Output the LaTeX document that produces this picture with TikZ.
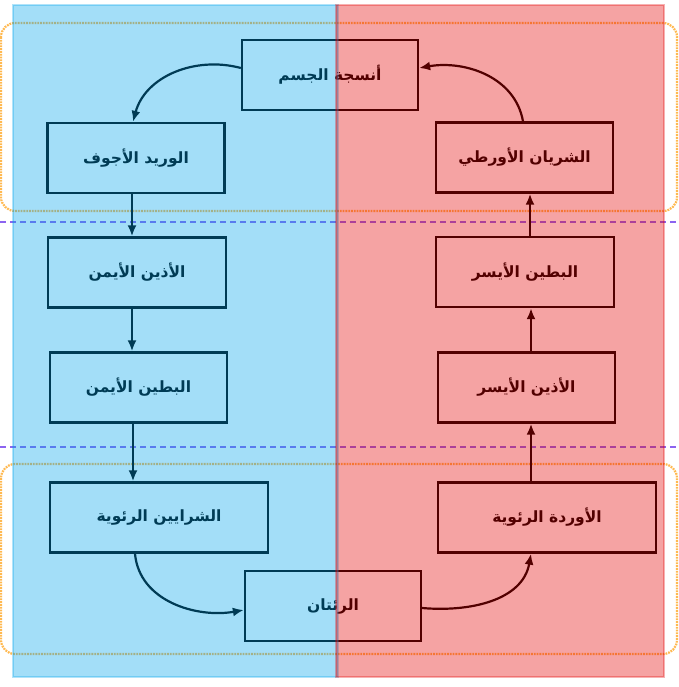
\documentclass[tikz,border=0pt]{standalone}
\usepackage{fontspec}
\usetikzlibrary{arrows.meta}
\newfontfamily\arabicfont[Script=Arabic]{DejaVu Sans}
\TeXXeTstate=1
\definecolor{panelblue}{RGB}{0,164,236}
\definecolor{panelred}{RGB}{228,0,0}
\definecolor{laneline}{RGB}{255,185,80}
\definecolor{sepline}{RGB}{140,100,240}
\newcommand\artxt[1]{\beginR #1\endR}
\tikzset{
 cbox/.style={draw=black, line width=2.3pt, minimum height=70pt, inner sep=0pt,
   font=\arabicfont\bfseries\fontsize{15.5}{18}\selectfont},
 arr/.style={line width=2.2pt, -{Latex[length=11pt,width=9pt]}},
 lane/.style={draw=laneline, line width=2.2pt, dash pattern=on 1.8pt off 1pt, rounded corners=14pt},
 sep/.style={draw=sepline, line width=1.6pt, dash pattern=on 6pt off 4pt},
 panel/.style={fill opacity=0.36, draw opacity=0.3, line width=1.4pt},
}
\begin{document}
\begin{tikzpicture}[x=1pt,y=-1pt]
\useasboundingbox (0,0) rectangle (678,687);
\fill[white] (0,0) rectangle (678,687);
% lanes and separators
\draw[lane] (1,23) rectangle (677,211);
\draw[lane] (1,464) rectangle (677,654);
\draw[sep] (0,222) -- (678,222);
\draw[sep] (0,447) -- (678,447);
% boxes
\node[cbox, minimum width=176pt] (body) at (330,75) {\artxt{أنسجة الجسم}};
\node[cbox, minimum width=177pt] (vc) at (136,158) {\artxt{الوريد الأجوف}};
\node[cbox, minimum width=177pt] (aorta) at (524.5,157.5) {\artxt{الشريان الأورطي}};
\node[cbox, minimum width=178pt] (ra) at (137,272.5) {\artxt{الأذين الأيمن}};
\node[cbox, minimum width=177pt] (rv) at (138.5,387.5) {\artxt{البطين الأيمن}};
\node[cbox, minimum width=178pt] (lv) at (525,272) {\artxt{البطين الأيسر}};
\node[cbox, minimum width=177pt] (la) at (526.5,387.5) {\artxt{الأذين الأيسر}};
\node[cbox, minimum width=218pt] (pa) at (159,517.5) {\artxt{الشرايين الرئوية}};
\node[cbox, minimum width=218pt] (pv) at (547,517.5) {\artxt{الأوردة الرئوية}};
\node[cbox, minimum width=176pt] (lungs) at (333,606) {\artxt{الرئتان}};
% connectors
\draw[arr] ([yshift=7pt]body.west) to[out=165,in=75] ([xshift=-3pt]vc.north);
\draw[arr] ([xshift=-4pt]vc.south) -- ([xshift=-4pt]vc.south |- ra.north);
\draw[arr] ([xshift=-5pt]ra.south) -- ([xshift=-5pt]ra.south |- rv.north);
\draw[arr] ([xshift=-5.5pt]rv.south) -- ([xshift=-5.5pt]rv.south |- pa.north);
\draw[arr] ([xshift=-24pt]pa.south) to[out=-85,in=190] ([yshift=-4pt]lungs.west);
\draw[arr] ([yshift=-2pt]lungs.east) to[out=-5,in=-100] ([xshift=-16pt]pv.south);
\draw[arr] ([xshift=-16pt]pv.north) -- ([xshift=-16pt]pv.north |- la.south);
\draw[arr] ([xshift=4.5pt]la.north) -- ([xshift=4.5pt]la.north |- lv.south);
\draw[arr] ([xshift=5pt]lv.north) -- ([xshift=5pt]lv.north |- aorta.south);
\draw[arr] ([xshift=-1.5pt]aorta.north) to[out=100,in=10] ([yshift=7pt]body.east);
% overlay panels
\path[panel, fill=panelblue, draw=panelblue] (13,5) rectangle (338,677);
\path[panel, fill=panelred, draw=panelred] (336,5) rectangle (664,677);
\end{tikzpicture}
\end{document}
